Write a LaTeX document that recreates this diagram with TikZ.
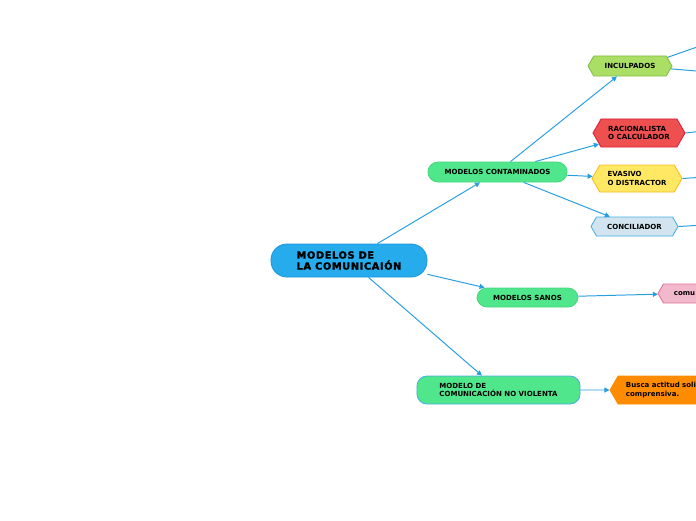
\documentclass[tikz,border=0pt]{standalone}
\usepackage{fontspec}
\setmainfont{DejaVu Sans}
\newfontfamily\heavyfont{DejaVu Sans}[BoldFeatures={FakeBold=2,LetterSpace=6}]
\usetikzlibrary{arrows.meta,shapes.symbols}

\definecolor{linkblue}{RGB}{40,158,226}
\definecolor{mainblue}{RGB}{38,171,236}
\definecolor{mainedge}{RGB}{30,150,220}
\definecolor{mint}{RGB}{80,230,140}
\definecolor{mintedge}{RGB}{70,215,125}
\definecolor{leaf}{RGB}{170,222,100}
\definecolor{leafedge}{RGB}{130,190,70}
\definecolor{tomato}{RGB}{238,80,80}
\definecolor{tomatoedge}{RGB}{215,30,60}
\definecolor{lemon}{RGB}{255,232,100}
\definecolor{lemonedge}{RGB}{250,185,30}
\definecolor{sky}{RGB}{210,228,240}
\definecolor{skyedge}{RGB}{70,175,225}
\definecolor{rose}{RGB}{242,184,204}
\definecolor{roseedge}{RGB}{225,110,150}
\definecolor{amber}{RGB}{255,140,0}

\begin{document}
\begin{tikzpicture}[x=0.025cm, y=-0.025cm,
    every node/.style={font=\fontsize{5}{5.8}\selectfont\bfseries, inner sep=0pt, text=black},
    link/.style={draw=linkblue, line width=0.7pt, -{Triangle[length=3.6pt,width=3.6pt]}},
    stub/.style={draw=linkblue, line width=0.7pt},
    pill/.style={draw=mintedge, fill=mint, line width=0.6pt, rounded corners=0.25cm},
    hexa/.style={signal, signal to=east and west, signal pointer angle=120, line width=0.6pt}]

    \useasboundingbox (0,0) rectangle (696,520);
    \clip (0,0) rectangle (696,520);

    % Central topic
    \node[draw=mainedge, fill=mainblue, line width=0.6pt, rounded corners=0.4cm,
          minimum width=3.9cm, minimum height=0.825cm, align=left,
          font=\fontsize{7}{7.8}\heavyfont\bfseries] (main) at (349,260.5)
          {MODELOS DE\\LA COMUNICAIÓN};

    % Main branches
    \node[pill, minimum width=3.475cm, minimum height=0.5cm] (cont) at (497.5,172)
          {MODELOS CONTAMINADOS};
    \node[pill, minimum width=2.525cm, minimum height=0.475cm] (sanos) at (527.5,297.5)
          {MODELOS SANOS};
    \node[pill, draw=skyedge, minimum width=4.075cm, minimum height=0.7cm, align=left] (noviol)
          at (498.5,390) {MODELO DE\\COMUNICACIÓN NO VIOLENTA};

    % Contaminated models
    \node[hexa, draw=leafedge, fill=leaf, minimum width=2.1cm, minimum height=0.5cm] (inculp)
          at (630,66) {INCULPADOS};
    \node[hexa, draw=tomatoedge, fill=tomato, minimum width=2.3cm, minimum height=0.7cm,
          align=left] (racion) at (639,133) {RACIONALISTA\\O CALCULADOR};
    \node[hexa, draw=lemonedge, fill=lemon, minimum width=2.25cm, minimum height=0.675cm,
          align=left] (evasivo) at (637,178.5) {EVASIVO\\O DISTRACTOR};
    \node[hexa, draw=skyedge, fill=sky, minimum width=2.175cm, minimum height=0.475cm] (concil)
          at (634.5,226.5) {CONCILIADOR};

    % Healthy / non-violent
    \node[hexa, draw=roseedge, fill=rose, minimum width=1.325cm, minimum height=0.475cm] (comu)
          at (684.5,293.5) {comu};
    \node[hexa, draw=amber, fill=amber, minimum width=3.3cm, minimum height=0.7cm,
          text width=2.5cm, align=left] (busca) at (676,390)
          {Busca actitud soli\\comprensiva.};

    % Free ends past the right edge
    \coordinate (inculp-a) at (720,39);
    \coordinate (inculp-b) at (720,73);
    \coordinate (racion-a) at (720,129);
    \coordinate (evasivo-a) at (720,176);
    \coordinate (concil-a) at (720,224);

    % Connectors
    \draw[link] (main) -- (cont);
    \draw[link] (main.-10) -- (sanos);
    \draw[link] (main) -- (noviol);
    \draw[link] (cont) -- (inculp);
    \draw[link] (cont) -- (racion);
    \draw[link] (cont) -- (evasivo);
    \draw[link] (cont) -- (concil);
    \draw[link] (sanos) -- (comu);
    \draw[link] (noviol) -- (busca);
    \draw[stub] (inculp.13) -- (inculp-a);
    \draw[stub] (inculp.-4) -- (inculp-b);
    \draw[stub] (racion.east) -- (racion-a);
    \draw[stub] (evasivo.east) -- (evasivo-a);
    \draw[stub] (concil.east) -- (concil-a);
\end{tikzpicture}
\end{document}
